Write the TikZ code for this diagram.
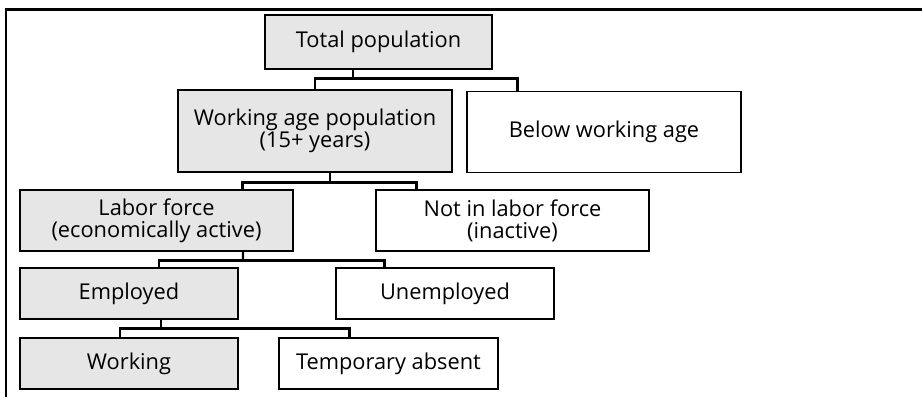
\documentclass[tikz,border=0pt]{standalone}
\usepackage{fontspec}
\setmainfont{Open Sans}
\usetikzlibrary{calc}
\definecolor{boxgray}{HTML}{E6E6E6}
\tikzset{
  catbox/.style={draw,line width=0.6pt,align=center,inner sep=0pt,
    font=\fontsize{12.4}{12.6}\selectfont},
  shaded/.style={catbox,fill=boxgray},
  plain/.style={catbox,fill=white},
  link/.style={line width=1.2pt}
}
\begin{document}
\begin{tikzpicture}
\useasboundingbox (0,0) rectangle (18.44,-7.94);
\clip (0,0) rectangle (18.44,-7.94);
% frame
\draw[line width=1.5pt] (0.12,-9) |- (20,-0.19);
% boxes
\node[shaded,minimum width=4.54cm,minimum height=1.08cm] (total) at (7.57,-0.84) {Total population};
\node[shaded,minimum width=5.48cm,minimum height=1.64cm] (workage) at (6.30,-2.62) {Working age population\\(15+ years)};
\node[plain,minimum width=5.48cm,minimum height=1.62cm] (belowage) at (12.08,-2.64) {Below working age};
\node[shaded,minimum width=5.46cm,minimum height=1.22cm] (labor) at (3.13,-4.41) {Labor force\\(economically active)};
\node[plain,minimum width=5.46cm,minimum height=1.22cm] (inactive) at (10.25,-4.41) {Not in labor force\\(inactive)};
\node[shaded,minimum width=4.36cm,minimum height=1.02cm] (employed) at (2.58,-5.87) {Employed};
\node[plain,minimum width=4.36cm,minimum height=1.02cm] (unemployed) at (8.90,-5.87) {Unemployed};
\node[shaded,minimum width=4.36cm,minimum height=1.02cm] (working) at (2.58,-7.27) {Working};
\node[plain,minimum width=4.38cm,minimum height=1.02cm] (absent) at (7.77,-7.27) {Temporary absent};
% links
\coordinate (bus1) at ($(total.south)+(-0.51,-0.18)$);
\draw[link] ([xshift=-0.51cm]total.south) -- (bus1);
\draw[link] (workage.north) |- (bus1) -| ([xshift=1.02cm]belowage.north west);
\coordinate (bus2) at ($(workage.south)+(0.30,-0.20)$);
\draw[link] ([xshift=0.30cm]workage.south) -- (bus2);
\draw[link] ([xshift=-1.02cm]labor.north east) |- (bus2) -| ([xshift=0.82cm]inactive.north west);
\coordinate (bus3) at ($(labor.south)+(1.73,-0.18)$);
\draw[link] ([xshift=1.73cm]labor.south) -- (bus3);
\draw[link] ([xshift=0.60cm]employed.north) |- (bus3) -| ([xshift=0.98cm]unemployed.north west);
\coordinate (bus4) at ($(employed.south)+(0.64,-0.18)$);
\draw[link] ([xshift=0.64cm]employed.south) -- (bus4);
\draw[link] ([xshift=-0.18cm]working.north) |- (bus4) -| ([xshift=1.42cm]absent.north west);
\end{tikzpicture}
\end{document}
